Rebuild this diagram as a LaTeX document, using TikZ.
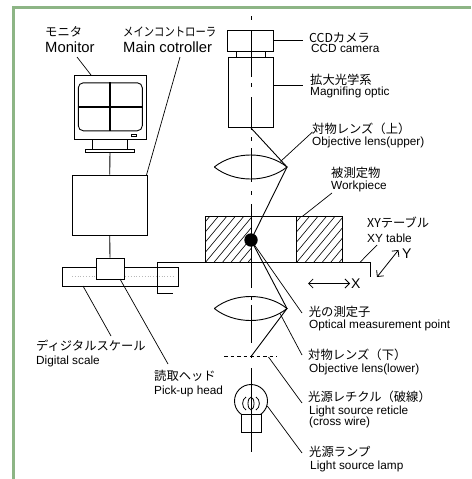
\documentclass[tikz,border=0pt]{standalone}
\usepackage{fontspec}
\setmainfont{Liberation Sans}
\newfontfamily\jpfont{Noto Sans CJK JP}
\usetikzlibrary{arrows.meta}

\definecolor{framegreen}{RGB}{141,181,133}

\tikzset{
  ln/.style={line width=0.9pt},
  leader/.style={line width=0.7pt},
  box/.style={draw, line width=0.9pt, inner sep=0pt, fill=white},
  hatchline/.style={line width=0.6pt},
  jp/.style={anchor=base west, inner sep=0pt, font=\jpfont\fontsize{12.3}{14}\selectfont},
  en/.style={anchor=base west, inner sep=0pt, font=\fontsize{11.8}{14}\selectfont},
  enbig/.style={anchor=base west, inner sep=0pt, font=\fontsize{14.8}{17}\selectfont},
  axislabel/.style={anchor=base west, inner sep=0pt, font=\fontsize{14}{16}\selectfont},
  motion/.style={line width=0.8pt, {Straight Barb[length=4.5pt,width=9pt]}-{Straight Barb[length=4.5pt,width=9pt]}},
}

\begin{document}
\begin{tikzpicture}[x=1pt, y=-1pt, line join=miter]
  \useasboundingbox (0,0) rectangle (471,479);
  \fill[white] (0,0) rectangle (471,479);

  % frame
  \draw[framegreen, line width=2.6pt] (13.7,479) -- (13.7,7.2) -- (471,7.2);

  % ---------- monitor and controller ----------
  \node[box, minimum width=72pt, minimum height=64pt] (monitor) at (110,107) {};
  \node[box, rounded corners=5pt, minimum width=64pt, minimum height=48pt] (screen) at (110.3,106.8) {};
  \draw[line width=2pt] (screen.north) -- (screen.south);
  \draw[line width=2pt] (screen.west) -- (screen.east);
  \node[box, line width=0.7pt, minimum width=5.7pt, minimum height=2.7pt] (led) at (133.8,135.4) {};
  \node[box, minimum width=35.4pt, minimum height=10pt] (neck) at (110,144) {};
  \node[box, minimum width=48.6pt, minimum height=3pt] (stand) at (110,150.5) {};
  \node[box, minimum width=74.7pt, minimum height=60pt] (ctrl) at (109.7,205) {};
  \draw[ln] (stand.south) -- (ctrl.north);

  % ---------- digital scale and pick-up head ----------
  \node[box, minimum width=116pt, minimum height=19pt] (scale) at (120,276.5) {};
  \draw[gray!55, line width=0.8pt, dotted] (72,276) -- (173,276);
  \node[box, minimum width=28pt, minimum height=21pt] (head) at (110,268.5) {};
  \draw[ln] (ctrl.south) -- (head.north);

  % ---------- XY table ----------
  \draw[ln] (172.7,293) -- (157,293) -- (157,262.3) -- (370,262.3) -- (370,277);

  % ---------- workpiece ----------
  \begin{scope}
    \clip (205.5,216.7) rectangle (251,262.3);
    \foreach \k in {-6,...,8}
      \draw[hatchline] (205.5+8.5*\k,262.3) -- (205.5+8.5*\k+38,216.7);
  \end{scope}
  \begin{scope}
    \clip (296.7,216.7) rectangle (342.3,262.3);
    \foreach \k in {-6,...,8}
      \draw[hatchline] (296.7+8.5*\k,262.3) -- (296.7+8.5*\k+38,216.7);
  \end{scope}
  \draw[ln] (205.5,262.3) -- (205.5,216.7) -- (342.3,216.7) -- (342.3,262.3);
  \draw[ln] (296.7,216.7) -- (296.7,262.3);

  % ---------- camera and magnifying optic ----------
  \node[box, minimum width=45.6pt, minimum height=21.7pt] (camera) at (250.5,41) {};
  \node[box, minimum width=29.7pt, minimum height=5.6pt] (collar) at (251,54.5) {};
  \node[box, minimum width=45pt, minimum height=70.4pt] (optic) at (250.5,92.5) {};

  % ---------- objective lenses ----------
  \coordinate (ulL) at (214.3,167);
  \coordinate (ulR) at (287,167);
  \draw[ln] (ulL) .. controls (234.3,151) and (267,151) .. (ulR)
                 .. controls (267,183) and (234.3,183) .. (ulL);
  \coordinate (llL) at (214.3,308.5);
  \coordinate (llR) at (287,308.5);
  \draw[ln] (llL) .. controls (234.3,292.5) and (267,292.5) .. (llR)
                 .. controls (267,324.5) and (234.3,324.5) .. (llL);

  % ---------- reticle ----------
  \coordinate (retL) at (224,356.5);
  \coordinate (retR) at (277,356.5);
  \coordinate (retC) at (251,356.5);
  \draw[ln, dash pattern=on 3.5pt off 3pt] (retL) -- (retR);

  % ---------- lamp ----------
  \draw[ln] (251,401) circle[radius=16.5];
  \node[box, minimum width=20pt, minimum height=18pt] (lampbase) at (251,423) {};
  \draw[line width=0.8pt] (246,397) .. controls (241.5,399.5) and (241.5,407.5) .. (246,410);
  \draw[line width=0.8pt] (256,397) .. controls (260.5,399.5) and (260.5,407.5) .. (256,410);
  \draw[line width=0.8pt] (251,403.5) ellipse[x radius=3, y radius=6.3];

  % ---------- optical axis ----------
  \foreach \a/\b in {16/20, 30/77, 83/87, 97/130, 137/141, 148/182, 191/195,
                     204/288, 296/300, 305/343, 355/358, 368/452}
    \draw[ln] (251,\a) -- (251,\b);

  % ---------- light path ----------
  \coordinate (optBot) at (251,128);
  \node[circle, fill=black, inner sep=0pt, minimum size=13.4pt] (probe) at (251,240) {};
  \draw[ln] (optBot) -- (ulR) -- (probe.center);
  \draw[ln] (probe.center) -- (llR) -- (retC);

  % ---------- motion arrows ----------
  \coordinate (xa) at (308,283.5);
  \coordinate (xb) at (350,283.5);
  \draw[motion] (xa) -- (xb);
  \node[axislabel] (xlab) at (351,288.5) {X};
  \coordinate (ya) at (377,277);
  \coordinate (yb) at (398.5,250);
  \draw[motion] (ya) -- (yb);
  \node[axislabel] (ylab) at (402,258.3) {Y};

  % ---------- labels ----------
  \node[jp] (jpMon) at (45,36.5) {モニタ};
  \node[enbig] (enMon) at (45,52.7) {Monitor};
  \node[jp] (jpCtl) at (123,36.5) {\scalebox{0.84}[1]{メインコントローラ}};
  \node[enbig] (enCtl) at (123,52.7) {Main cotroller};

  \node[jp] (jpCam) at (309,42) {CCDカメラ};
  \node[en] (enCam) at (311,52.7) {CCD camera};
  \node[jp] (jpOpt) at (310,84.5) {拡大光学系};
  \node[en] (enOpt) at (310,95) {Magnifing optic};
  \node[jp] (jpUL) at (312,133.3) {対物レンズ（上）};
  \node[en] (enUL) at (312,145.5) {Objective lens(upper)};
  \node[jp] (jpWp) at (331,177) {被測定物};
  \node[en] (enWp) at (331,189) {Workpiece};
  \node[jp] (jpTab) at (367,227) {XYテーブル};
  \node[en] (enTab) at (367,242.5) {XY table};

  \node[jp] (jpPt) at (308.7,316.5) {光の測定子};
  \node[en] (enPt) at (309,328.5) {Optical measurement point};
  \node[jp] (jpLL) at (308,359.7) {対物レンズ（下）};
  \node[en] (enLL) at (309,372) {Objective lens(lower)};
  \node[jp] (jpRet) at (308,401.7) {光源レチクル（破線）};
  \node[en] (enRet) at (309,414) {Light source reticle};
  \node[en] (enRet2) at (309,425.5) {(cross wire)};
  \node[jp] (jpLamp) at (309,456.5) {光源ランプ};
  \node[en] (enLamp) at (310,469) {Light source lamp};

  \node[jp] (jpScl) at (36,350.5) {ディジタルスケール};
  \node[en] (enScl) at (36,364) {Digital scale};
  \node[jp] (jpHead) at (154,380.5) {読取ヘッド};
  \node[en] (enHead) at (154,394) {Pick-up head};

  % ---------- leader lines ----------
  \coordinate (mon1) at (77,57);   \coordinate (mon2) at (91,75);
  \draw[leader] (mon1) -- (mon2);
  \coordinate (ctl1) at (180,57);  \coordinate (ctl2) at (146.5,175);
  \draw[leader] (ctl1) -- (ctl2);
  \coordinate (cam1) at (273.3,40.5); \coordinate (cam2) at (303,40.5);
  \draw[leader] (cam1) -- (cam2);
  \coordinate (opt1) at (273,85);  \coordinate (opt2) at (303,85);
  \draw[leader] (opt1) -- (opt2);
  \coordinate (ul1) at (280.5,161.5); \coordinate (ul2) at (312.5,132);
  \draw[leader] (ul1) -- (ul2);
  \coordinate (wp1) at (302,216.7); \coordinate (wp2) at (332,193);
  \draw[leader] (wp1) -- (wp2);
  \coordinate (tab1) at (360,262.3); \coordinate (tab2) at (377,245);
  \draw[leader] (tab1) -- (tab2);
  \coordinate (pt2) at (302,313);
  \draw[leader] (probe.center) -- (pt2);
  \coordinate (ll1) at (280,313.5); \coordinate (ll2) at (302,355);
  \draw[leader] (ll1) -- (ll2);
  \coordinate (ret1) at (268.5,357); \coordinate (ret2) at (302,403);
  \draw[leader] (ret1) -- (ret2);
  \coordinate (lamp1) at (267.3,406); \coordinate (lamp2) at (302,453);
  \draw[leader] (lamp1) -- (lamp2);
  \coordinate (scl1) at (83,286); \coordinate (scl2) at (111,336);
  \draw[leader] (scl1) -- (scl2);
  \coordinate (head1) at (120,279); \coordinate (head2) at (168,364);
  \draw[leader] (head1) -- (head2);
\end{tikzpicture}
\end{document}
